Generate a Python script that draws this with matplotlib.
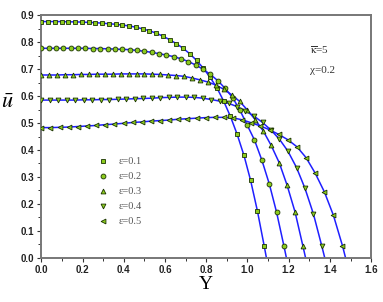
import numpy as np
import matplotlib
matplotlib.use("Agg")
import matplotlib.pyplot as plt
from matplotlib.ticker import MultipleLocator

plt.rcParams['mathtext.fontset'] = 'stix'

labels = ["ε=0.1", "ε=0.2", "ε=0.3", "ε=0.4", "ε=0.5"]
markers = ['s', 'o', '^', 'v', '<']

y1 = [0, .033, .066, .098, .131, .164, .197, .229, .262, .295, .328, .360, .393, .426, .459, .491, .524,
      .557, .590, .622, .655, .688, .721, .753, .786, .819, .852, .884, .917, .950, .983, 1.015, 1.048, 1.081, 1.092]
u1 = [.876, .876, .876, .876, .875, .875, .874, .873, .872, .870, .868, .866, .863, .860, .855, .849, .842,
      .833, .822, .809, .794, .777, .756, .732, .703, .669, .630, .582, .525, .458, .380, .288, .175, .045, 0]

y2 = [0, .036, .071, .107, .143, .178, .214, .250, .285, .321, .357, .392, .428, .464, .499, .535, .571,
      .606, .642, .678, .713, .749, .785, .820, .856, .892, .928, .963, .999, 1.034, 1.070, 1.106, 1.141, 1.177, 1.189]
u2 = [.777, .777, .777, .777, .777, .777, .777, .776, .776, .775, .774, .773, .772, .769, .766, .762, .757,
      .752, .746, .738, .728, .715, .699, .680, .657, .628, .594, .548, .492, .437, .362, .274, .170, .044, 0]

y3 = [0, .038, .077, .115, .154, .192, .231, .269, .308, .346, .385, .423, .462, .500, .538, .577, .615,
      .654, .692, .731, .769, .808, .846, .885, .923, .962, 1.000, 1.038, 1.077, 1.115, 1.154, 1.192, 1.231, 1.269, 1.282]
u3 = [.678, .678, .678, .679, .679, .680, .680, .681, .681, .681, .682, .682, .682, .682, .681, .680, .678,
      .676, .673, .667, .660, .652, .641, .625, .605, .580, .548, .512, .470, .417, .353, .270, .170, .044, 0]

y4 = [0, .041, .083, .124, .165, .206, .248, .289, .330, .371, .413, .454, .495, .536, .578, .619, .660,
      .701, .743, .784, .825, .866, .908, .949, .990, 1.031, 1.073, 1.114, 1.155, 1.196, 1.238, 1.279, 1.320, 1.361, 1.375]
u4 = [.585, .585, .585, .585, .585, .586, .586, .587, .587, .588, .589, .590, .591, .592, .594, .595, .596,
      .596, .595, .592, .587, .581, .573, .561, .545, .526, .502, .474, .440, .396, .335, .258, .163, .043, 0]

y5 = [0, .044, .089, .133, .177, .221, .266, .310, .354, .399, .443, .487, .531, .576, .620, .664, .708,
      .753, .797, .841, .886, .930, .974, 1.018, 1.063, 1.107, 1.151, 1.196, 1.240, 1.284, 1.328, 1.373, 1.417, 1.461, 1.476]
u5 = [.483, .483, .484, .485, .487, .489, .491, .494, .496, .499, .502, .504, .507, .509, .511, .514, .516,
      .518, .520, .521, .521, .519, .512, .501, .489, .475, .458, .438, .412, .372, .315, .245, .158, .045, 0]

xticks = [0.0, 0.2, 0.4, 0.6, 0.8, 1.0, 1.2, 1.4, 1.6]
yticks = [0.0, 0.1, 0.2, 0.3, 0.4, 0.5, 0.6, 0.7, 0.8, 0.9]

fig = plt.figure(figsize=(3.83, 3.02), dpi=100)
ax = fig.add_axes([0.108, 0.146, 0.861, 0.804])

series = [(y1, u1), (y2, u2), (y3, u3), (y4, u4), (y5, u5)]
line_col = '#1f1fff'
mk_face = '#8ccc1e'
mk_edge = '#1a3300'
for (yy, uu), m, lab in zip(series, markers, labels):
    ax.plot(yy, uu, color=line_col, lw=1.1, zorder=2)
    ax.plot(yy[:-1], uu[:-1], ls='none', marker=m, ms=3.5, mfc=mk_face, mec=mk_edge, mew=0.6,
            zorder=3, label=lab)

ax.set_xlim(0, 1.6)
ax.set_ylim(0, 0.9)
ax.set_xticks(xticks)
ax.set_yticks(yticks)
ax.set_xticklabels([f"{t:.1f}" for t in xticks])
ax.set_yticklabels([f"{t:.1f}" for t in yticks])
ax.xaxis.set_minor_locator(MultipleLocator(0.1))
ax.yaxis.set_minor_locator(MultipleLocator(0.05))
ax.tick_params(which='major', direction='out', length=3, width=0.8, color='#333333', pad=2)
ax.tick_params(which='minor', direction='out', length=2, width=0.7, color='#333333')
for lab in ax.get_xticklabels() + ax.get_yticklabels():
    lab.set_fontfamily('Liberation Sans')
    lab.set_fontweight('bold')
    lab.set_fontsize(7)
    lab.set_color('#222222')
for sp in ax.spines.values():
    sp.set_color('#777777')
    sp.set_linewidth(1.4)

ax.set_xlabel('Y', fontfamily='Liberation Serif', fontsize=14, labelpad=1)
ax.set_ylabel(r'$\bar{u}$', fontsize=16, rotation=0, labelpad=0)
ax.yaxis.set_label_coords(-0.103, 0.60)

ax.text(0.815, 0.84, r'$\overline{\mathrm{\kappa}}$=5', transform=ax.transAxes, fontsize=8,
        fontfamily='Liberation Serif', color='#333333')
ax.text(0.815, 0.76, 'χ=0.2', transform=ax.transAxes, fontsize=8,
        fontfamily='Liberation Serif', color='#333333')

leg = ax.legend(loc='lower left', bbox_to_anchor=(0.15, 0.10), frameon=False,
                handlelength=1.0, handletextpad=1.0, labelspacing=0.55, borderpad=0.2,
                prop={'family': 'Liberation Serif', 'size': 7.5})
for t in leg.get_texts():
    t.set_color('#555555')

fig.savefig('out.png', dpi=100)
